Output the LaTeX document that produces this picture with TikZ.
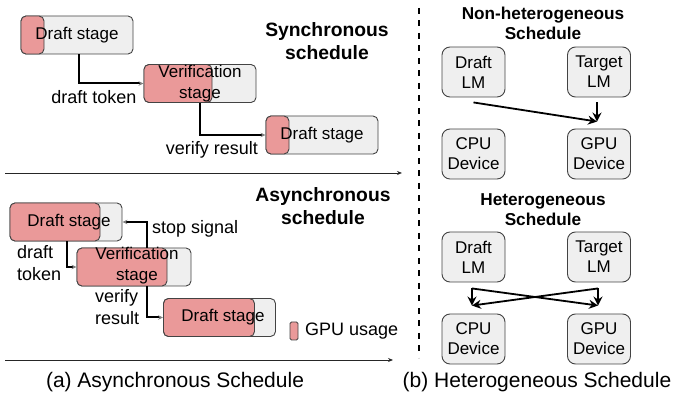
\documentclass[tikz,border=0pt]{standalone}
\usepackage{fontspec}
\setmainfont{Liberation Sans}
\usetikzlibrary{arrows.meta,calc}
\definecolor{boxgray}{HTML}{EFEFEF}
\definecolor{gpured}{HTML}{EA9999}
\definecolor{edgegray}{HTML}{434343}
\begin{document}
\begin{tikzpicture}[x=1pt, y=-1pt,
    stagebox/.style={draw=edgegray, fill=boxgray, rounded corners=5pt, line width=0.9pt,
        minimum width=112pt, minimum height=38pt, inner sep=0pt},
    gpubar/.style={draw=edgegray, fill=gpured, rounded corners=5pt, line width=0.9pt,
        minimum height=38pt, inner sep=0pt, anchor=west},
    stagetext/.style={font=\fontsize{17}{21}\selectfont, align=center, inner sep=0pt},
    lbl/.style={font=\fontsize{18}{22}\selectfont, align=left, inner sep=0pt},
    title/.style={font=\fontsize{19.3}{23}\selectfont\bfseries, align=center},
    subtitle/.style={font=\fontsize{17.2}{20}\selectfont\bfseries, align=center},
    caption/.style={font=\fontsize{21}{24}\selectfont},
    flow/.style={line width=2pt, -{Stealth[length=5pt, width=4.5pt, color=gray]}},
    axis/.style={line width=0.9pt, draw=black!85, -{Stealth[length=5pt, width=4pt]}},
    lmbox/.style={draw=edgegray, fill=boxgray, rounded corners=8pt, line width=0.9pt,
        minimum width=63pt, minimum height=50pt, inner sep=0pt, align=center,
        font=\fontsize{17}{20}\selectfont},
    map/.style={line width=1.8pt, -{Stealth[length=9pt, width=9pt, inset=3pt]}}]
    \useasboundingbox (0,0) rectangle (673,403);

    %synchronous schedule
    \node[stagebox] at (77,35) (s1) {};
    \node[gpubar, minimum width=23pt] at (s1.west) (s1gpu) {};
    \node[stagetext] at (s1) (s1txt) {Draft stage};
    \node[stagebox] at (200,83.5) (s2) {};
    \node[gpubar, minimum width=68pt] at (s2.west) (s2gpu) {};
    \node[stagetext] at (s2) (s2txt) {Verification\\stage};
    \node[stagebox] at (322,135) (s3) {};
    \node[gpubar, minimum width=23pt] at (s3.west) (s3gpu) {};
    \node[stagetext] at (s3) (s3txt) {Draft stage};
    \node[title] at (327,41) (sync) {Synchronous\\schedule};
    \node[lbl] at (94,97) (stok) {draft token};
    \node[lbl] at (212,150) (sres) {verify result};
    \draw[flow] ($(s1.south west)+(58,0)$) |- (s2.west);
    \draw[flow] (s2.south) |- (s3.west);
    \coordinate (t0) at (5,173);
    \coordinate (t1) at (402,173);
    \draw[axis] (t0) -- (t1);

    %asynchronous schedule
    \node[stagebox] at (66,222) (a1) {};
    \node[gpubar, minimum width=90pt] at (a1.west) (a1gpu) {};
    \node[stagetext] at (69,222) (a1txt) {Draft stage};
    \node[stagebox, minimum width=114pt] at (134,267) (a2) {};
    \node[gpubar, minimum width=90pt] at (a2.west) (a2gpu) {};
    \node[stagetext] at (137,266) (a2txt) {Verification\\stage};
    \node[stagebox] at (219.5,317.5) (a3) {};
    \node[gpubar, minimum width=91pt] at (a3.west) (a3gpu) {};
    \node[stagetext] at (223,317.5) (a3txt) {Draft stage};
    \node[title] at (323,206) (async) {Asynchronous\\schedule};
    \node[lbl, anchor=west] at (17,263) (atok) {draft\\token};
    \node[lbl, anchor=west] at (95,307.5) (ares) {verify\\result};
    \node[lbl, anchor=west] at (152,229) (stop) {stop signal};
    \draw[flow] ($(a1.south west)+(57,0)$) |- (a2.west);
    \draw[flow] ($(a2.south west)+(70,0)$) |- (a3.west);
    \draw[flow] ($(a2.north west)+(70,0)$) |- (a1.east);
    \node[draw=edgegray, fill=gpured, rounded corners=1.5pt, line width=0.9pt,
        minimum width=8pt, minimum height=18pt, inner sep=0pt] at (294,331) (key) {};
    \node[lbl, anchor=west] at (305,331) (keytxt) {GPU usage};
    \coordinate (u0) at (5,360);
    \coordinate (u1) at (393,360);
    \draw[axis] (u0) -- (u1);
    \node[caption] at (175,382) (capa) {(a) Asynchronous Schedule};

    %divider
    \coordinate (v0) at (419,8);
    \coordinate (v1) at (419,358);
    \draw[line width=1.8pt, dash pattern=on 6pt off 6.5pt] (v0) -- (v1);

    %non-heterogeneous schedule
    \node[subtitle] at (543,23) (nonhet) {Non-heterogeneous\\Schedule};
    \node[lmbox] at (473.5,72) (d1) {Draft\\LM};
    \node[lmbox] at (599,72) (t1) {Target\\LM};
    \node[lmbox] at (473.5,154) (c1) {CPU\\Device};
    \node[lmbox] at (599,154) (g1) {GPU\\Device};
    \coordinate (d1b) at ($(d1.south)+(0,5)$);
    \coordinate (t1b) at ($(t1.south)+(-2,5)$);
    \coordinate (g1t) at ($(g1.north)+(-2,-7)$);
    \draw[map] (d1b) -- (g1t);
    \draw[map] (t1b) -- (g1t);

    %heterogeneous schedule
    \node[subtitle] at (543,210) (het) {Heterogeneous\\Schedule};
    \node[lmbox] at (473.5,257) (d2) {Draft\\LM};
    \node[lmbox] at (599,257) (t2) {Target\\LM};
    \node[lmbox] at (473.5,339) (c2) {CPU\\Device};
    \node[lmbox] at (599,339) (g2) {GPU\\Device};
    \coordinate (d2b) at ($(d2.south)+(-1.5,6)$);
    \coordinate (t2b) at ($(t2.south)+(-1,6)$);
    \coordinate (c2t) at ($(c2.north)+(-1.5,-8)$);
    \coordinate (g2t) at ($(g2.north)+(-1,-8)$);
    \draw[map] (d2b) -- (c2t);
    \draw[map] (d2b) -- (g2t);
    \draw[map] (t2b) -- (g2t);
    \draw[map] (t2b) -- (c2t);
    \node[caption] at (537,382) (capb) {(b) Heterogeneous Schedule};
\end{tikzpicture}
\end{document}
